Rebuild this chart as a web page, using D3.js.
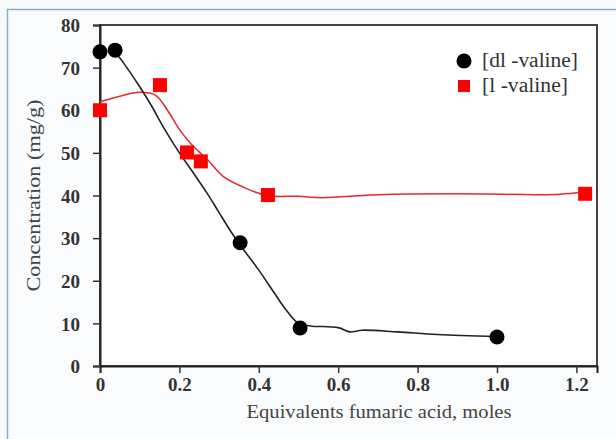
<!DOCTYPE html>
<html>
<head>
<meta charset="utf-8">
<script src="https://cdn.jsdelivr.net/npm/d3@7"></script>
<style>
	body { margin: 0; background: #f8f9fa; }
	svg { display: block; }
	svg text { font-family: "Liberation Serif", "Times New Roman", "DejaVu Serif", serif !important; }
</style>
</head>
<body>
<svg width="616" height="439"></svg>
<script>
// measured points
const dlPoints = [[0, 73.7], [0.038, 74.1], [0.353, 28.9], [0.504, 8.9], [1.0, 6.8]];
const lPoints = [[0, 60.0], [0.151, 65.9], [0.219, 50.1], [0.254, 48.0], [0.423, 40.1], [1.222, 40.4]];

// fitted curves
const dlCurve = [[0.035, 74], [0.06, 71], [0.1, 65.5], [0.13, 61], [0.16, 56], [0.2, 50], [0.23, 46],
	[0.27, 40.5], [0.3, 36], [0.33, 31.5], [0.36, 27.5], [0.4, 22.5], [0.44, 17], [0.47, 13], [0.5, 10],
	[0.53, 9.4], [0.6, 9.0], [0.63, 8.0], [0.66, 8.4], [0.75, 8.0], [0.85, 7.4], [1.0, 6.9]];
const lCurve = [[0, 62], [0.05, 63.3], [0.1, 64.2], [0.14, 63.5], [0.17, 60], [0.2, 55.5], [0.23, 52],
	[0.27, 48.5], [0.31, 44.5], [0.36, 42], [0.42, 40], [0.5, 39.8], [0.56, 39.5], [0.7, 40.2],
	[0.9, 40.4], [1.1, 40.2], [1.16, 40.3], [1.22, 40.8]];

const xTicks = [0, 0.2, 0.4, 0.6, 0.8, 1.0, 1.2];
const yTicks = [0, 10, 20, 30, 40, 50, 60, 70, 80];
const seriesNames = ["[dl -valine]", "[l -valine]"];

const svg = d3.select("svg");
const plotL = 100, plotR = 597, plotT = 25, plotB = 366;

// outer frame (blue)
svg.append("rect")
	.attr("x", 7.5).attr("y", 9.5)
	.attr("width", 640).attr("height", 460)
	.attr("fill", "#fafbfc")
	.attr("stroke", "#7fb2d0")
	.attr("stroke-width", 1.5);

const x = d3.scaleLinear().domain([0, (plotR - plotL) / 397]).range([plotL, plotR]);
const y = d3.scaleLinear().domain([0, 80]).range([plotB, plotT]);

svg.append("rect")
	.attr("x", plotL).attr("y", plotT)
	.attr("width", plotR - plotL).attr("height", plotB - plotT)
	.attr("fill", "#fff")
	.attr("stroke", "#444")
	.attr("stroke-width", 2);

const xAxis = svg.append("g")
	.attr("transform", "translate(0," + plotB + ")")
	.call(d3.axisBottom(x).tickValues(xTicks).tickSize(7).tickPadding(5)
		.tickFormat(d => d === 0 ? "0" : d3.format(".1f")(d)));
const yAxis = svg.append("g")
	.attr("transform", "translate(" + plotL + ",0)")
	.call(d3.axisLeft(y).tickValues(yTicks).tickSize(7).tickPadding(13));

[xAxis, yAxis].forEach(g => {
	g.attr("font-family", null);
	g.select(".domain").attr("stroke", "#222").attr("stroke-width", 2);
	g.selectAll(".tick line").attr("stroke", "#333").attr("stroke-width", 1.5);
	g.selectAll(".tick text")
		.attr("fill", "#333")
		.attr("font-weight", "bold")
		.attr("font-size", "19px");
});
yAxis.selectAll(".tick text").attr("dy", "0.35em");

// curves
const line = d3.line().x(d => x(d[0])).y(d => y(d[1])).curve(d3.curveCatmullRom);

svg.append("path")
	.datum(lCurve)
	.attr("d", line)
	.attr("fill", "none")
	.attr("stroke", "#e8282b")
	.attr("stroke-width", 1.5);

svg.append("path")
	.datum(dlCurve)
	.attr("d", line)
	.attr("fill", "none")
	.attr("stroke", "#222")
	.attr("stroke-width", 1.6);

// markers
svg.append("g").selectAll("circle")
	.data(dlPoints)
	.join("circle")
	.attr("cx", d => x(d[0]))
	.attr("cy", d => y(d[1]))
	.attr("r", 7.5)
	.attr("fill", "#000");

svg.append("g").selectAll("rect")
	.data(lPoints)
	.join("rect")
	.attr("x", d => x(d[0]) - 7)
	.attr("y", d => y(d[1]) - 7)
	.attr("width", 14)
	.attr("height", 14)
	.attr("fill", "#f00");

// legend
const legend = svg.append("g").attr("transform", "translate(464,61)");
legend.append("circle").attr("r", 7.5).attr("fill", "#000");
legend.append("rect").attr("x", -6).attr("y", 19).attr("width", 12).attr("height", 12).attr("fill", "#f00");
legend.append("text").attr("x", 18).attr("y", 6).attr("textLength", 96).text(seriesNames[0]);
legend.append("text").attr("x", 18).attr("y", 31).attr("textLength", 86).text(seriesNames[1]);
legend.selectAll("text")
	.attr("lengthAdjust", "spacingAndGlyphs")
	.attr("font-size", "20px")
	.attr("fill", "#333");

// axis titles
svg.append("text")
	.attr("x", 379).attr("y", 418)
	.attr("text-anchor", "middle")
	.attr("font-size", "19px")
	.attr("textLength", 265)
	.attr("lengthAdjust", "spacingAndGlyphs")
	.attr("fill", "#444")
	.text("Equivalents fumaric acid, moles");

svg.append("text")
	.attr("transform", "translate(40," + (plotT + plotB) / 2 + ") rotate(-90)")
	.attr("text-anchor", "middle")
	.attr("font-size", "19px")
	.attr("textLength", 192)
	.attr("lengthAdjust", "spacingAndGlyphs")
	.attr("fill", "#444")
	.text("Concentration (mg/g)");
</script>
</body>
</html>
